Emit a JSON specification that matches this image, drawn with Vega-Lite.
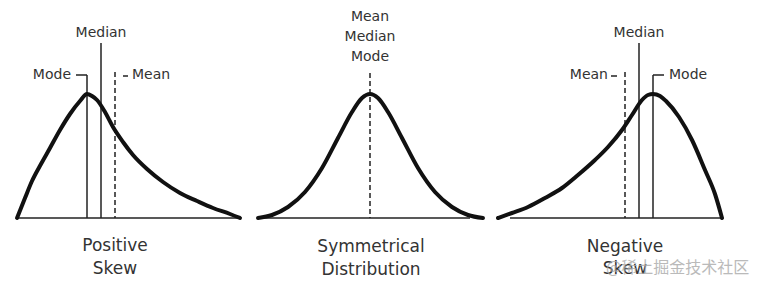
{
  "$schema": "https://vega.github.io/schema/vega-lite/v6.json",
  "width": 768,
  "height": 290,
  "autosize": {"type": "none"},
  "padding": 0,
  "background": "white",
  "config": {"view": {"stroke": null}},
  "datasets": {
    "curves": [
      {"panel": "pos", "x": 17, "y": 0}, {"panel": "pos", "x": 25, "y": 20}, {"panel": "pos", "x": 32, "y": 37}, {"panel": "pos", "x": 41, "y": 54},
      {"panel": "pos", "x": 50, "y": 70}, {"panel": "pos", "x": 60, "y": 88}, {"panel": "pos", "x": 70, "y": 104}, {"panel": "pos", "x": 80, "y": 117},
      {"panel": "pos", "x": 87, "y": 124}, {"panel": "pos", "x": 92, "y": 122}, {"panel": "pos", "x": 97, "y": 118}, {"panel": "pos", "x": 105, "y": 106},
      {"panel": "pos", "x": 113, "y": 91}, {"panel": "pos", "x": 123, "y": 76}, {"panel": "pos", "x": 133, "y": 63}, {"panel": "pos", "x": 147, "y": 49},
      {"panel": "pos", "x": 163, "y": 36}, {"panel": "pos", "x": 180, "y": 25}, {"panel": "pos", "x": 197, "y": 17}, {"panel": "pos", "x": 213, "y": 10},
      {"panel": "pos", "x": 230, "y": 4}, {"panel": "pos", "x": 240, "y": 0},
      {"panel": "sym", "x": 258, "y": 0}, {"panel": "sym", "x": 272, "y": 3}, {"panel": "sym", "x": 288, "y": 11}, {"panel": "sym", "x": 305, "y": 26},
      {"panel": "sym", "x": 322, "y": 50}, {"panel": "sym", "x": 338, "y": 80}, {"panel": "sym", "x": 352, "y": 106}, {"panel": "sym", "x": 362, "y": 120},
      {"panel": "sym", "x": 370, "y": 124}, {"panel": "sym", "x": 378, "y": 120}, {"panel": "sym", "x": 388, "y": 106}, {"panel": "sym", "x": 402, "y": 80},
      {"panel": "sym", "x": 418, "y": 50}, {"panel": "sym", "x": 435, "y": 26}, {"panel": "sym", "x": 452, "y": 11}, {"panel": "sym", "x": 468, "y": 3},
      {"panel": "sym", "x": 483, "y": 0},
      {"panel": "neg", "x": 498, "y": 0}, {"panel": "neg", "x": 512, "y": 5}, {"panel": "neg", "x": 528, "y": 11}, {"panel": "neg", "x": 545, "y": 20},
      {"panel": "neg", "x": 562, "y": 30}, {"panel": "neg", "x": 578, "y": 43}, {"panel": "neg", "x": 595, "y": 58}, {"panel": "neg", "x": 608, "y": 71},
      {"panel": "neg", "x": 622, "y": 88}, {"panel": "neg", "x": 632, "y": 103}, {"panel": "neg", "x": 642, "y": 118}, {"panel": "neg", "x": 648, "y": 123},
      {"panel": "neg", "x": 653, "y": 124}, {"panel": "neg", "x": 660, "y": 122}, {"panel": "neg", "x": 666, "y": 117}, {"panel": "neg", "x": 679, "y": 101},
      {"panel": "neg", "x": 692, "y": 78}, {"panel": "neg", "x": 705, "y": 48}, {"panel": "neg", "x": 715, "y": 24}, {"panel": "neg", "x": 722, "y": 0}
    ],
    "baselines": [
      {"x": 17, "x2": 240, "y": 0},
      {"x": 263, "x2": 470, "y": 0},
      {"x": 510, "x2": 722, "y": 0}
    ],
    "vlines": [
      {"stat": "Mode", "x": 87, "bottom": 0, "top": 143},
      {"stat": "Median", "x": 101, "bottom": 0, "top": 175},
      {"stat": "Mean", "x": 115, "bottom": 0, "top": 146},
      {"stat": "Mean", "x": 370, "bottom": 0, "top": 145},
      {"stat": "Mean", "x": 625, "bottom": 0, "top": 146},
      {"stat": "Median", "x": 639, "bottom": 0, "top": 175},
      {"stat": "Mode", "x": 653, "bottom": 0, "top": 143}
    ],
    "ticks": [
      {"x": 76, "x2": 87, "y": 143},
      {"x": 123, "x2": 128, "y": 142},
      {"x": 611, "x2": 617, "y": 142},
      {"x": 653, "x2": 664, "y": 143}
    ],
    "labels": [
      {"text": "Mode", "x": 71, "y": 143, "align": "right"},
      {"text": "Median", "x": 101, "y": 185, "align": "center"},
      {"text": "Mean", "x": 132, "y": 143, "align": "left"},
      {"text": "Mean", "x": 370, "y": 201, "align": "center"},
      {"text": "Median", "x": 370, "y": 181, "align": "center"},
      {"text": "Mode", "x": 370, "y": 161, "align": "center"},
      {"text": "Mean", "x": 608, "y": 143, "align": "right"},
      {"text": "Median", "x": 639, "y": 185, "align": "center"},
      {"text": "Mode", "x": 669, "y": 143, "align": "left"}
    ],
    "titles": [
      {"text": "Positive", "x": 115, "y": -28},
      {"text": "Skew", "x": 115, "y": -51},
      {"text": "Symmetrical", "x": 371, "y": -29},
      {"text": "Distribution", "x": 371, "y": -52},
      {"text": "Negative", "x": 625, "y": -29},
      {"text": "Skew", "x": 625, "y": -51}
    ],
    "watermark": [
      {"text": "@稀土掘金技术社区", "x": 606, "y": -50}
    ]
  },
  "layer": [
    {
      "data": {"name": "baselines"},
      "mark": {"type": "rule", "color": "#222", "strokeWidth": 1.5},
      "encoding": {
        "x": {"field": "x", "type": "quantitative", "scale": {"domain": [0, 768], "nice": false, "zero": false}, "axis": null},
        "x2": {"field": "x2"},
        "y": {"field": "y", "type": "quantitative", "scale": {"domain": [-72, 218], "nice": false, "zero": false}, "axis": null}
      }
    },
    {
      "data": {"name": "vlines"},
      "transform": [{"filter": "datum.stat !== 'Mean'"}],
      "mark": {"type": "rule", "color": "#222", "strokeWidth": 1.5},
      "encoding": {
        "x": {"field": "x", "type": "quantitative", "axis": null},
        "y": {"field": "top", "type": "quantitative", "axis": null},
        "y2": {"field": "bottom"}
      }
    },
    {
      "data": {"name": "vlines"},
      "transform": [{"filter": "datum.stat === 'Mean'"}],
      "mark": {"type": "rule", "color": "#222", "strokeWidth": 1.5, "strokeDash": [5, 3]},
      "encoding": {
        "x": {"field": "x", "type": "quantitative", "axis": null},
        "y": {"field": "top", "type": "quantitative", "axis": null},
        "y2": {"field": "bottom"}
      }
    },
    {
      "data": {"name": "ticks"},
      "mark": {"type": "rule", "color": "#222", "strokeWidth": 1.5},
      "encoding": {
        "x": {"field": "x", "type": "quantitative", "axis": null},
        "x2": {"field": "x2"},
        "y": {"field": "y", "type": "quantitative", "axis": null}
      }
    },
    {
      "data": {"name": "curves"},
      "mark": {"type": "line", "color": "#111", "strokeWidth": 4, "interpolate": "monotone", "strokeCap": "round"},
      "encoding": {
        "x": {"field": "x", "type": "quantitative", "axis": null},
        "y": {"field": "y", "type": "quantitative", "axis": null},
        "detail": {"field": "panel", "type": "nominal"}
      }
    },
    {
      "data": {"name": "labels"},
      "transform": [{"filter": "datum.align === 'left'"}],
      "mark": {"type": "text", "font": "DejaVu Sans", "fontSize": 14, "color": "#333", "baseline": "middle", "align": "left"},
      "encoding": {
        "x": {"field": "x", "type": "quantitative", "axis": null},
        "y": {"field": "y", "type": "quantitative", "axis": null},
        "text": {"field": "text"}
      }
    },
    {
      "data": {"name": "labels"},
      "transform": [{"filter": "datum.align === 'right'"}],
      "mark": {"type": "text", "font": "DejaVu Sans", "fontSize": 14, "color": "#333", "baseline": "middle", "align": "right"},
      "encoding": {
        "x": {"field": "x", "type": "quantitative", "axis": null},
        "y": {"field": "y", "type": "quantitative", "axis": null},
        "text": {"field": "text"}
      }
    },
    {
      "data": {"name": "labels"},
      "transform": [{"filter": "datum.align === 'center'"}],
      "mark": {"type": "text", "font": "DejaVu Sans", "fontSize": 14, "color": "#333", "baseline": "middle", "align": "center"},
      "encoding": {
        "x": {"field": "x", "type": "quantitative", "axis": null},
        "y": {"field": "y", "type": "quantitative", "axis": null},
        "text": {"field": "text"}
      }
    },
    {
      "data": {"name": "titles"},
      "mark": {"type": "text", "font": "DejaVu Sans", "fontSize": 17, "color": "#333", "baseline": "middle", "align": "center"},
      "encoding": {
        "x": {"field": "x", "type": "quantitative", "axis": null},
        "y": {"field": "y", "type": "quantitative", "axis": null},
        "text": {"field": "text"}
      }
    },
    {
      "data": {"name": "watermark"},
      "mark": {"type": "text", "font": "Noto Sans CJK SC", "fontSize": 16, "color": "#aaa", "opacity": 0.8, "baseline": "middle", "align": "left"},
      "encoding": {
        "x": {"field": "x", "type": "quantitative", "axis": null},
        "y": {"field": "y", "type": "quantitative", "axis": null},
        "text": {"field": "text"}
      }
    }
  ]
}
